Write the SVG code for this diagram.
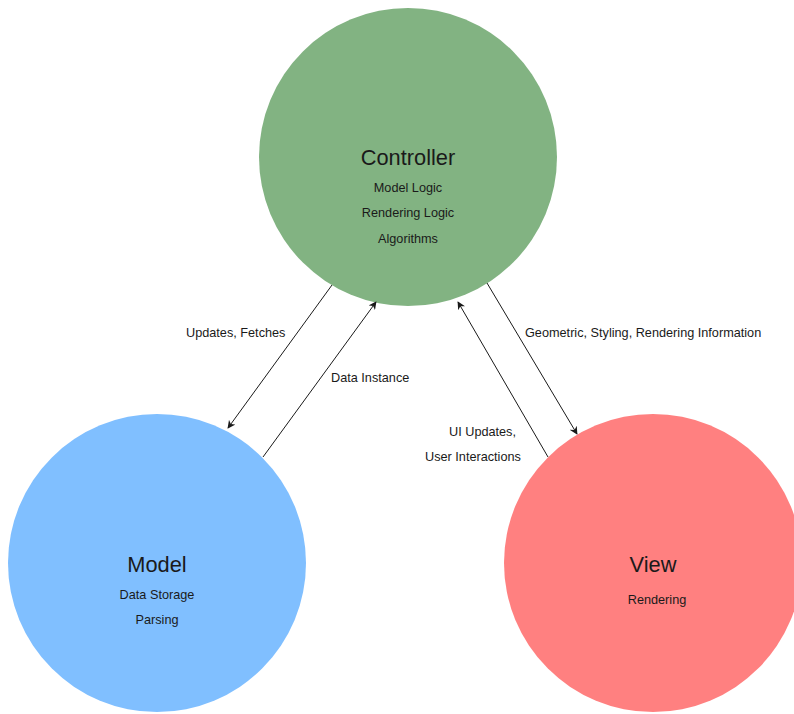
<svg xmlns="http://www.w3.org/2000/svg" width="794" height="714" viewBox="0 0 794 714">
<defs>
<style>
text{font-family:"Liberation Sans",Arial,sans-serif;fill:#1a1a1a}
.t{font-size:21.8px;text-anchor:middle}
.s{font-size:12.7px;text-anchor:middle}
.l{font-size:12.7px}
.c{stroke:#1a1a1a;stroke-width:1;fill:none;marker-end:url(#ah)}
</style>
<marker id="ah" viewBox="0 0 10 10" refX="9" refY="5" markerWidth="8" markerHeight="8" markerUnits="userSpaceOnUse" orient="auto">
<path d="M0,0 L10,5 L0,10 L3,5 Z" fill="#1a1a1a"/>
</marker>
</defs>
<rect width="794" height="714" fill="#ffffff"/>
<g id="controller">
<circle cx="408" cy="157" r="149" fill="#82b382"/>
<text class="t" x="408" y="165">Controller</text>
<text class="s" x="408" y="192">Model Logic</text>
<text class="s" x="408" y="217">Rendering Logic</text>
<text class="s" x="408" y="243">Algorithms</text>
</g>
<g id="model">
<circle cx="157" cy="563" r="149" fill="#80bfff"/>
<text class="t" x="157" y="572">Model</text>
<text class="s" x="157" y="599">Data Storage</text>
<text class="s" x="157" y="624">Parsing</text>
</g>
<g id="view">
<circle cx="653" cy="563" r="149" fill="#ff8080"/>
<text class="t" x="653" y="572">View</text>
<text class="s" x="657" y="604">Rendering</text>
</g>
<g id="connectors">
<line class="c" x1="332" y1="285" x2="228" y2="428"/>
<line class="c" x1="263" y1="457" x2="376" y2="302"/>
<line class="c" x1="487" y1="283" x2="577" y2="434"/>
<line class="c" x1="548" y1="457" x2="458" y2="302"/>
<text class="l" x="186" y="337">Updates, Fetches</text>
<text class="l" x="331" y="382">Data Instance</text>
<text class="l" x="525" y="337">Geometric, Styling, Rendering Information</text>
<text class="l" x="449" y="436">UI Updates,</text>
<text class="l" x="425" y="461">User Interactions</text>
</g>
</svg>
